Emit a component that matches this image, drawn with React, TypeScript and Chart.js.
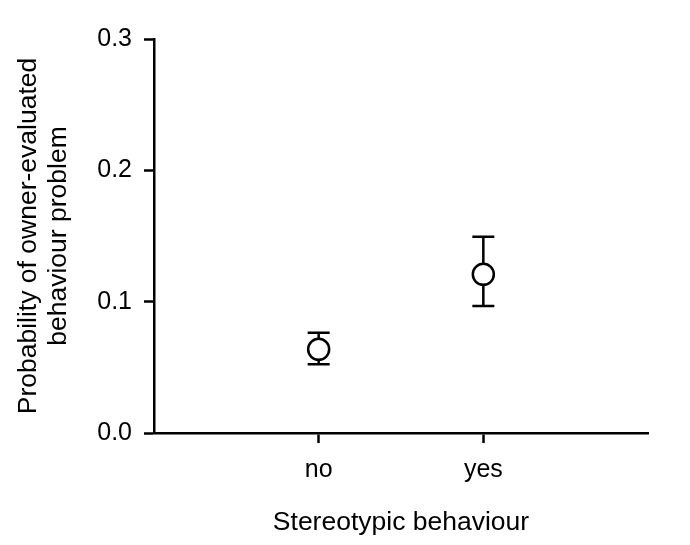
import React, { useEffect, useRef } from "react";
import { Chart, registerables } from "chart.js";

Chart.register(...registerables);

const categories = ["no", "yes"];
const probability = [0.0637, 0.1208];
const lowerCI = [0.0523, 0.0967];
const upperCI = [0.0764, 0.1495];
const yTicks = [0.0, 0.1, 0.2, 0.3];
const xTitle = "Stereotypic behaviour";
const yTitle = ["Probability of owner-evaluated", "behaviour problem"];

const FONT = "'Liberation Sans', Arial, Helvetica, sans-serif";
const LW = 2.5;

const errorBarPlugin = {
  id: "errorBars",
  beforeDatasetsDraw(chart: any) {
    const { ctx, scales } = chart;
    const xs = scales.x;
    const ys = scales.y;
    ctx.save();
    ctx.strokeStyle = "#000";
    ctx.lineWidth = LW;
    categories.forEach((_c, i) => {
      const x = xs.getPixelForValue(i + 1);
      const yl = ys.getPixelForValue(lowerCI[i]);
      const yh = ys.getPixelForValue(upperCI[i]);
      ctx.beginPath();
      ctx.moveTo(x, yl);
      ctx.lineTo(x, yh);
      ctx.moveTo(x - 11, yl);
      ctx.lineTo(x + 11, yl);
      ctx.moveTo(x - 11, yh);
      ctx.lineTo(x + 11, yh);
      ctx.stroke();
    });
    ctx.restore();
  },
};

export default function App() {
  const ref = useRef<HTMLCanvasElement | null>(null);

  useEffect(() => {
    if (!ref.current) return;
    Chart.defaults.font.family = FONT;
    Chart.defaults.color = "#000";
    const chart = new Chart(ref.current, {
      type: "scatter",
      data: {
        datasets: [
          {
            data: categories.map((_c, i) => ({ x: i + 1, y: probability[i] })),
            pointRadius: 10.5,
            pointHoverRadius: 10.5,
            pointBackgroundColor: "#fff",
            pointBorderColor: "#000",
            pointBorderWidth: LW,
            showLine: false,
          },
        ],
      },
      options: {
        responsive: false,
        animation: false,
        events: [],
        layout: { padding: { top: 39, right: 42, bottom: 0, left: 0 } },
        plugins: { legend: { display: false }, tooltip: { enabled: false } },
        scales: {
          x: {
            type: "linear",
            position: "bottom",
            min: 0,
            max: 3,
            afterBuildTicks: (s: any) => {
              s.ticks = categories.map((_c, i) => ({ value: i + 1 }));
            },
            afterFit: (s: any) => {
              s.height = 112;
            },
            ticks: {
              autoSkip: false,
              maxRotation: 0,
              padding: 12,
              color: "#000",
              font: { size: 25, family: FONT },
              callback: (v: any) => categories[Math.round(v) - 1] ?? "",
            },
            grid: {
              display: true,
              drawOnChartArea: false,
              drawTicks: true,
              tickLength: 10,
              tickWidth: LW,
              color: "#000",
            },
            border: { display: true, color: "#000", width: LW },
            title: {
              display: true,
              text: xTitle,
              color: "#000",
              font: { size: 26.5, family: FONT, lineHeight: 1.15 },
              padding: { top: 0, bottom: 7 },
            },
          },
          y: {
            type: "linear",
            position: "left",
            min: 0,
            max: 0.3,
            afterBuildTicks: (s: any) => {
              s.ticks = yTicks.map((v) => ({ value: v }));
            },
            afterFit: (s: any) => {
              s.width = 154;
            },
            ticks: {
              padding: 12,
              color: "#000",
              font: { size: 25, family: FONT },
              callback: (v: any) => Number(v).toFixed(1),
            },
            grid: {
              display: true,
              drawOnChartArea: false,
              drawTicks: true,
              tickLength: 10,
              tickWidth: LW,
              color: "#000",
            },
            border: { display: true, color: "#000", width: LW },
            title: {
              display: true,
              text: yTitle,
              color: "#000",
              font: { size: 26.5, family: FONT, lineHeight: 1.15 },
              padding: { top: 13, bottom: 0 },
            },
          },
        },
      },
      plugins: [errorBarPlugin],
    } as any);
    return () => chart.destroy();
  }, []);

  return (
    <div style={{ position: "absolute", left: 0, top: 0, width: 690, height: 545, background: "#fff" }}>
      <canvas ref={ref} width={690} height={545} style={{ width: 690, height: 545 }} />
    </div>
  );
}
